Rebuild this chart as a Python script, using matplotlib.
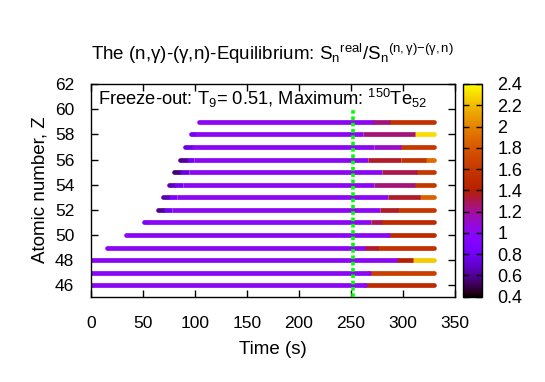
import matplotlib
matplotlib.use("Agg")
import matplotlib.pyplot as plt
import matplotlib.colors as mcolors

plt.rcParams['font.family'] = ['Liberation Sans', 'DejaVu Sans']
plt.rcParams['font.size'] = 12.5
plt.rcParams['mathtext.fontset'] = 'custom'
plt.rcParams['mathtext.rm'] = 'Liberation Sans'
plt.rcParams['mathtext.it'] = 'Liberation Sans:italic'

# proton number of each row
z_rows = [59, 58, 57, 56, 55, 54, 53, 52, 51, 50, 49, 48, 47, 46]

# time breakpoints (s) of each row and the ratio value on each piece
seg_times = [
    [104, 271, 288, 330],
    [96, 100, 262, 312, 330],
    [90, 97, 272, 298, 330],
    [86, 92, 99, 267, 298, 322, 330],
    [80, 86, 94, 280, 314, 330],
    [75, 80, 89, 272, 312, 330],
    [69, 75, 83, 286, 317, 330],
    [64, 70, 78, 278, 295, 330],
    [51, 54, 269, 280, 330],
    [34, 286, 330],
    [15, 264, 276, 330],
    [0, 294, 310, 330],
    [0, 268, 330],
    [0, 264, 330],
]
seg_vals = [
    [1.0, 1.25, 1.55],
    [0.8, 1.0, 1.25, 2.3],
    [0.75, 1.0, 1.12, 1.6],
    [0.6, 0.8, 1.0, 1.35, 1.55, 1.9],
    [0.55, 0.75, 1.0, 1.3, 1.6],
    [0.65, 0.8, 1.0, 1.25, 1.6],
    [0.65, 0.85, 1.0, 1.35, 1.85],
    [0.6, 0.8, 1.0, 1.35, 1.6],
    [0.85, 1.0, 1.3, 1.5],
    [1.0, 1.5],
    [1.0, 1.35, 1.55],
    [1.0, 1.4, 2.25],
    [1.0, 1.65],
    [1.0, 1.5],
]

freeze_time = 252
cb_ticks = [0.4, 0.6, 0.8, 1.0, 1.2, 1.4, 1.6, 1.8, 2.0, 2.2, 2.4]
cb_labels = ['0.4', '0.6', '0.8', '1', '1.2', '1.4', '1.6', '1.8', '2', '2.2', '2.4']
x_ticks = [0, 50, 100, 150, 200, 250, 300, 350]
y_ticks = [46, 48, 50, 52, 54, 56, 58, 60, 62]

W, H = 545, 382
fig = plt.figure(figsize=(W / 100, H / 100), dpi=100)
ax = fig.add_axes([91 / W, 1 - 296.7 / H, (454.7 - 91) / W, (296.7 - 84) / H])
cax = fig.add_axes([463 / W, 1 - 296.7 / H, 19 / W, (296.7 - 84) / H])

cmap = plt.get_cmap('gnuplot')
norm = mcolors.Normalize(vmin=0.4, vmax=2.4)

lw = 3.4
for z, times, vals in zip(z_rows, seg_times, seg_vals):
    n = len(vals)
    # last piece first, so its round cap sits under the pieces before it
    order = [n - 1] + list(range(n - 1))
    for k in order:
        cap = 'round' if k in (0, n - 1) else 'butt'
        ax.plot([times[k], times[k + 1]], [z, z], color=cmap(norm(vals[k])),
                lw=lw, solid_capstyle=cap, zorder=2)

ax.plot([freeze_time, freeze_time], [45.1, 60], color='#00ff00', lw=2.6,
        linestyle=(0, (1.0, 0.75)), dash_capstyle='butt', zorder=3)

ax.set_xlim(0, 350)
ax.set_ylim(45.1, 62)
ax.set_xticks(x_ticks)
ax.set_yticks(y_ticks)
ax.tick_params(direction='in', top=True, right=True, length=5, width=1)
ax.tick_params(axis='x', pad=14)
ax.tick_params(axis='y', pad=12)
for s in ax.spines.values():
    s.set_linewidth(1)

fig.text(272.8 / W, 1 - 349 / H, 'Time (s)', ha='center', va='center', fontsize=13.5)
fig.text(40 / W, 1 - 190 / H, 'Atomic number, Z', ha='center', va='center',
         rotation=90, fontsize=13.5)

fig.text(272.8 / W, 1 - 60 / H,
         'The (n,γ)-(γ,n)-Equilibrium: S$_\\mathrm{n}$$^\\mathrm{real}$/S$_\\mathrm{n}$'
         '$^{\\mathrm{(n,γ)}{-}\\mathrm{(γ,n)}}$',
         ha='center', va='baseline', fontsize=13.5)
fig.text(98 / W, 1 - 105 / H,
         'Freeze-out: T$_\\mathrm{9}$= 0.51, Maximum: $^\\mathrm{150}$Te$_\\mathrm{52}$',
         ha='left', va='baseline', fontsize=13.2)

sm = plt.cm.ScalarMappable(norm=norm, cmap=cmap)
cb = fig.colorbar(sm, cax=cax, ticks=cb_ticks)
cb.set_ticklabels(cb_labels)
cb.outline.set_linewidth(1)
cax.tick_params(direction='in', left=True, right=True, length=4, width=1, pad=11,
                labelsize=13)

fig.savefig('out.png', dpi=100)
